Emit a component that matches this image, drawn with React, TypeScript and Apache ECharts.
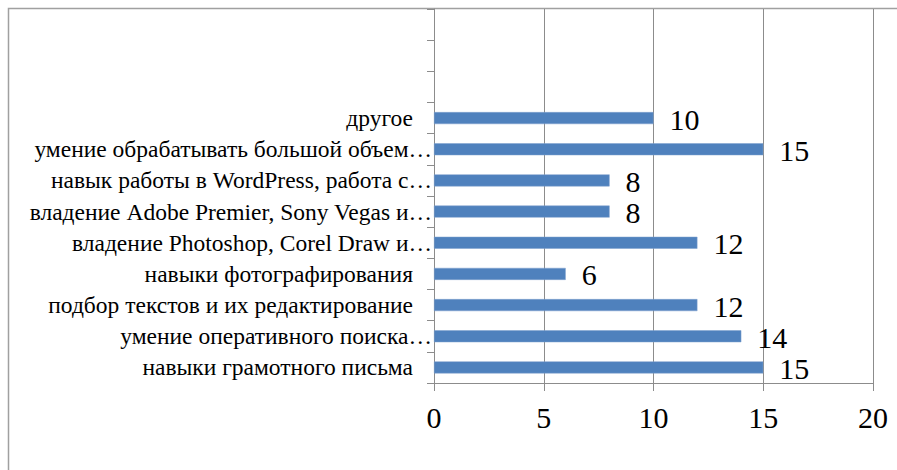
import React, { useEffect, useRef } from "react";
import * as echarts from "echarts";

const categories = [
  "навыки грамотного письма",
  "умение оперативного поиска…",
  "подбор текстов и их редактирование",
  "навыки фотографирования",
  "владение Photoshop, Corel Draw и…",
  "владение Adobe Premier, Sony Vegas и…",
  "навык работы в WordPress, работа с…",
  "умение обрабатывать большой объем…",
  "другое",
  "",
  "",
  "",
];
const values: (number | null)[] = [15, 14, 12, 6, 12, 8, 8, 15, 10, null, null, null];
const xTicks = [0, 5, 10, 15, 20];

const SERIF = "Liberation Serif";
const GRAY = "#8c8c8c";

export default function App() {
  const ref = useRef<HTMLDivElement>(null);
  useEffect(() => {
    if (!ref.current) return;
    const chart = echarts.init(ref.current, null, { renderer: "svg" });
    chart.setOption({
      animation: false,
      backgroundColor: "#fff",
      grid: { left: 434, top: 9, right: 24, bottom: 87, containLabel: false },
      graphic: [
        {
          type: "rect",
          shape: { x: 8.5, y: 8.5, width: 1000, height: 1000 },
          style: { fill: "none", stroke: "#a0a0a0", lineWidth: 1.5 },
          silent: true,
          z: -1,
        },
      ],
      xAxis: {
        type: "value",
        min: xTicks[0],
        max: xTicks[xTicks.length - 1],
        interval: 5,
        axisLine: { show: true, lineStyle: { color: GRAY, width: 1 } },
        axisTick: { show: true, length: 8, lineStyle: { color: GRAY } },
        splitLine: { show: true, lineStyle: { color: GRAY, width: 1 } },
        axisLabel: {
          fontFamily: SERIF,
          fontSize: 30,
          color: "#000",
          margin: 19,
        },
      },
      yAxis: {
        type: "category",
        data: categories.map((c) =>
          c.endsWith("…") || c === ""
            ? { value: c }
            : { value: c, textStyle: { padding: [0, 19, 0, 0] } }
        ),
        axisLine: { show: true, lineStyle: { color: GRAY, width: 1 } },
        axisTick: { show: true, length: 7, lineStyle: { color: GRAY } },
        splitLine: { show: false },
        axisLabel: {
          fontFamily: SERIF,
          fontSize: 23.5,
          color: "#000",
          margin: 2,
          interval: 0,
        },
      },
      series: [
        {
          type: "bar",
          data: values,
          barWidth: 12,
          itemStyle: { color: "#4f81bd", borderColor: "#7ea1cf", borderWidth: 0.5 },
          label: {
            show: true,
            position: "right",
            distance: 16,
            fontFamily: SERIF,
            fontSize: 30,
            color: "#000",
            offset: [0, 1],
          },
        },
      ],
    });
    return () => chart.dispose();
  }, []);
  return (
    <div
      ref={ref}
      style={{ position: "absolute", left: 0, top: 0, width: 897, height: 470 }}
    />
  );
}
